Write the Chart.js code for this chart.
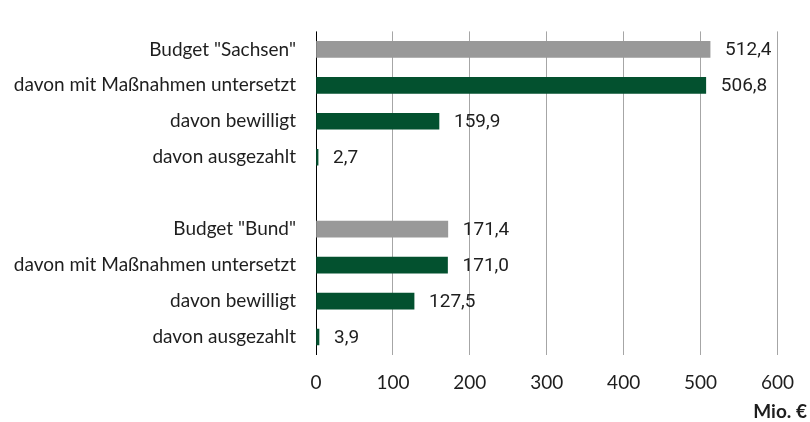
<!DOCTYPE html>
<html>
<head>
<meta charset="utf-8">
<script src="https://cdn.jsdelivr.net/npm/chart.js@4/dist/chart.umd.min.js"></script>
<style>
  html, body { margin:0; padding:0; background:#fff; }
  canvas { display:block; }
</style>
</head>
<body>
<canvas id="chart" width="810" height="422"></canvas>
<script>
// ==== Data ====
const categories = [
  'Budget "Sachsen"',
  'davon mit Maßnahmen untersetzt',
  'davon bewilligt',
  'davon ausgezahlt',
  '',
  'Budget "Bund"',
  'davon mit Maßnahmen untersetzt',
  'davon bewilligt',
  'davon ausgezahlt'
];
const values = [512.4, 506.8, 159.9, 2.7, null, 171.4, 171.0, 127.5, 3.9];
const xTicks = [0, 100, 200, 300, 400, 500, 600];
const unitLabel = 'Mio. €';

const GRAY = '#999999';
const GREEN = '#03512f';
const TEXT = '#1e1e1e';

const fmt = v => v.toFixed(1).replace('.', ',');

// value labels next to bar ends + unit label bottom right
const labelPlugin = {
  id: 'labels',
  afterDatasetsDraw(chart){
    const ctx = chart.ctx;
    const meta = chart.getDatasetMeta(0);
    ctx.save();
    ctx.font = '19px Roboto';
    ctx.fillStyle = TEXT;
    ctx.textAlign = 'left';
    ctx.textBaseline = 'middle';
    meta.data.forEach((bar, i) => {
      const v = values[i];
      if (v == null) return;
      ctx.fillText(fmt(v), bar.x + 15, bar.y + 1);
    });
    ctx.font = 'bold 19px Lato';
    ctx.textAlign = 'right';
    ctx.fillText(unitLabel, 807, 412);
    ctx.restore();
  }
};

const ctx = document.getElementById('chart').getContext('2d');
new Chart(ctx, {
  type: 'bar',
  data: {
    labels: categories,
    datasets: [{
      data: values,
      backgroundColor: categories.map(c => c.startsWith('Budget') ? GRAY : GREEN),
      barThickness: 16
    }]
  },
  options: {
    indexAxis: 'y',
    responsive: false,
    animation: false,
    devicePixelRatio: 1,
    layout: { padding: { left: 0, right: 24, top: 13, bottom: 0 } },
    plugins: { legend: { display: false }, tooltip: { enabled: false } },
    scales: {
      x: {
        min: 0, max: 600,
        afterBuildTicks: s => { s.ticks = xTicks.map(v => ({ value: v })); },
        afterFit: s => { s.height = 67; },
        border: { display: false },
        grid: {
          drawTicks: false,
          color: c => c.tick && c.tick.value === 0 ? '#000000' : '#a6a6a6',
          lineWidth: 1
        },
        ticks: { padding: 16, color: TEXT, font: { family: 'Lato', size: 19 } }
      },
      y: {
        afterFit: s => { s.width = 316; },
        border: { display: false },
        grid: { display: false, drawTicks: false },
        ticks: { padding: 20, color: TEXT, font: { family: 'Lato', size: 19 }, autoSkip: false }
      }
    }
  },
  plugins: [labelPlugin]
});
</script>
</body>
</html>
